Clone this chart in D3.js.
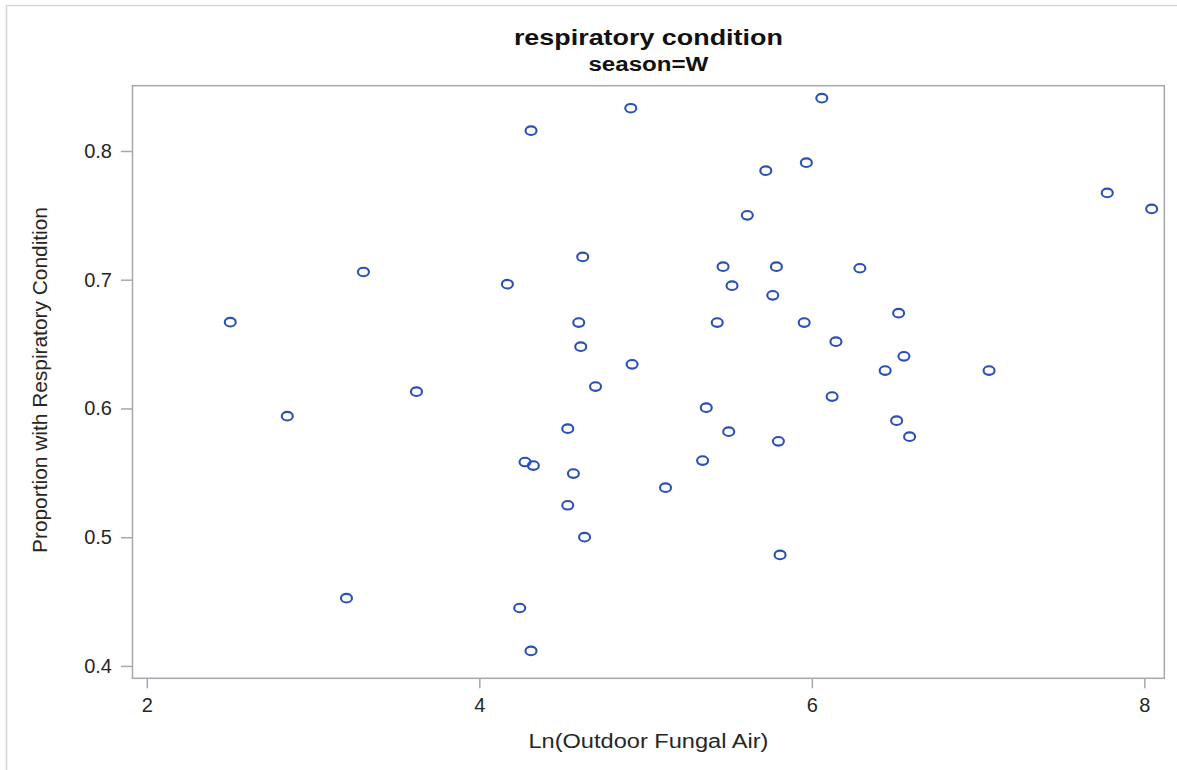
<!DOCTYPE html>
<html>
<head>
<meta charset="utf-8">
<script src="https://cdn.jsdelivr.net/npm/d3@7"></script>
<style>
  html, body { margin: 0; padding: 0; background: #fff; }
  svg { display: block; font-family: "Liberation Sans", Arial, sans-serif; }
</style>
</head>
<body>
<svg id="chart" width="1177" height="770"></svg>
<script>
// ---- data ----
const titleText = "respiratory condition";
const subtitleText = "season=W";
const xLabel = "Ln(Outdoor Fungal Air)";
const yLabel = "Proportion with Respiratory Condition";
const xTicks = [2, 4, 6, 8];
const yTicks = [0.4, 0.5, 0.6, 0.7, 0.8];
const xDomain = [1.914, 8.12];
const yDomain = [0.3904, 0.8507];

const xValues = [
  2.502, 3.303, 2.845, 3.622, 3.201,
  4.911, 4.311, 6.060, 5.967, 5.723, 5.612, 4.622, 4.169, 5.466, 5.787,
  5.520, 5.765, 4.598, 5.431, 5.954, 4.610, 4.919, 4.699,
  7.777, 8.044, 6.289, 6.522, 6.145, 6.554, 6.441, 7.066,
  5.365, 4.532, 5.500, 5.799, 4.275, 4.325, 5.343, 4.566, 5.120, 4.532,
  4.633, 5.809, 4.243, 4.311,
  6.122, 6.510, 6.588
];
const yValues = [
  0.667, 0.706, 0.594, 0.613, 0.4526,
  0.8332, 0.8158, 0.841, 0.7909, 0.7847, 0.750, 0.7177, 0.6965, 0.7101, 0.7101,
  0.6954, 0.6879, 0.6667, 0.6667, 0.6667, 0.648, 0.6343, 0.617,
  0.7674, 0.755, 0.7089, 0.674, 0.6519, 0.6405, 0.6294, 0.6294,
  0.6006, 0.5843, 0.582, 0.5745, 0.5584, 0.5556, 0.5595, 0.5494, 0.5385, 0.5248,
  0.500, 0.4862, 0.445, 0.4117,
  0.6092, 0.5905, 0.5781
];

// ---- layout ----
const plot = { left: 132.5, right: 1164.3, top: 85.7, bottom: 678.3 };
const axisColor = "#a4a9af";
const markerColor = "#2b50b4";
const textColor = "#262626";

const svg = d3.select("#chart");

// outer frame
svg.append("rect")
  .attr("x", 6.5).attr("y", 5.5)
  .attr("width", 1200).attr("height", 800)
  .attr("fill", "none").attr("stroke", "#d6d6d6").attr("stroke-width", 1.5);

const x = d3.scaleLinear().domain(xDomain).range([plot.left, plot.right]);
const y = d3.scaleLinear().domain(yDomain).range([plot.bottom, plot.top]);

// titles
svg.append("text")
  .attr("x", (plot.left + plot.right) / 2).attr("y", 45)
  .attr("text-anchor", "middle")
  .attr("font-weight", "bold").attr("font-size", 22).attr("fill", "#111")
  .attr("textLength", 269).attr("lengthAdjust", "spacingAndGlyphs")
  .text(titleText);
svg.append("text")
  .attr("x", (plot.left + plot.right) / 2).attr("y", 70.5)
  .attr("text-anchor", "middle")
  .attr("font-weight", "bold").attr("font-size", 19.5).attr("fill", "#111")
  .attr("textLength", 120).attr("lengthAdjust", "spacingAndGlyphs")
  .text(subtitleText);

// axes
const xAxis = d3.axisBottom(x).tickValues(xTicks).tickFormat(d3.format("d"))
  .tickSize(10).tickSizeOuter(0).tickPadding(10);
const yAxis = d3.axisLeft(y).tickValues(yTicks).tickFormat(d3.format(".1f"))
  .tickSize(11.5).tickSizeOuter(0).tickPadding(9);

const gx = svg.append("g").attr("transform", `translate(0,${plot.bottom})`).call(xAxis);
const gy = svg.append("g").attr("transform", `translate(${plot.left},0)`).call(yAxis);
[gx, gy].forEach(g => {
  g.select(".domain").remove();
  g.selectAll(".tick line").attr("stroke", axisColor).attr("stroke-width", 1.5);
  g.selectAll(".tick text").attr("fill", textColor).attr("font-size", 20)
    .attr("font-family", "\"Liberation Sans\", Arial, sans-serif");
});

// plot border
svg.append("rect")
  .attr("x", plot.left).attr("y", plot.top)
  .attr("width", plot.right - plot.left).attr("height", plot.bottom - plot.top)
  .attr("fill", "none").attr("stroke", axisColor).attr("stroke-width", 1.5);

// axis labels
svg.append("text")
  .attr("x", (plot.left + plot.right) / 2).attr("y", 748)
  .attr("text-anchor", "middle").attr("font-size", 20).attr("fill", textColor)
  .attr("textLength", 240).attr("lengthAdjust", "spacingAndGlyphs")
  .text(xLabel);
svg.append("text")
  .attr("transform", `translate(46.5,${(plot.top + plot.bottom) / 2 - 2}) rotate(-90)`)
  .attr("text-anchor", "middle").attr("font-size", 20).attr("fill", textColor)
  .attr("textLength", 346).attr("lengthAdjust", "spacingAndGlyphs")
  .text(yLabel);

// markers
const pts = xValues.map((v, i) => ({ x: v, y: yValues[i] }));
svg.append("g").selectAll("ellipse").data(pts).join("ellipse")
  .attr("cx", d => x(d.x)).attr("cy", d => y(d.y))
  .attr("rx", 5.5).attr("ry", 4.3)
  .attr("fill", "none").attr("stroke", markerColor).attr("stroke-width", 2.1);
</script>
</body>
</html>
